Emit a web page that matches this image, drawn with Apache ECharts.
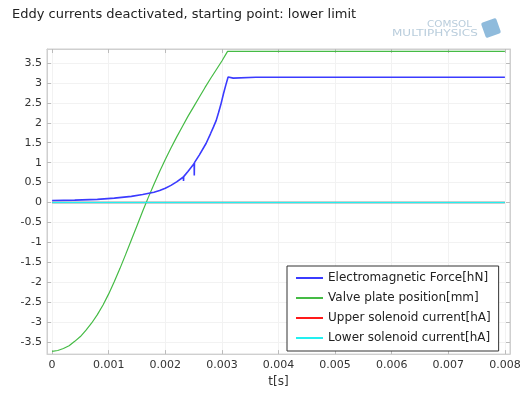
<!DOCTYPE html>
<html>
<head>
<meta charset="utf-8">
<script src="https://cdn.jsdelivr.net/npm/echarts@6/dist/echarts.min.js"></script>
<style>
  html, body { margin: 0; padding: 0; background: #fff; }
  #main { width: 526px; height: 393px; }
</style>
</head>
<body>
<div id="main"></div>
<script>
// values
const xTicks = [0, 0.001, 0.002, 0.003, 0.004, 0.005, 0.006, 0.007, 0.008];
const yTicks = [-3.5, -3, -2.5, -2, -1.5, -1, -0.5, 0, 0.5, 1, 1.5, 2, 2.5, 3, 3.5];

// Electromagnetic Force[hN]
const forceTime = [0, 0.0004, 0.0008, 0.0011, 0.0014, 0.0016, 0.0018, 0.0019, 0.002, 0.0021, 0.0022,
  0.00232, 0.002322, 0.002325, 0.0024, 0.00251, 0.002512, 0.002515, 0.0026, 0.00272, 0.0028, 0.00285,
  0.0029, 0.00294, 0.00298, 0.00303, 0.00307, 0.00311, 0.0032, 0.0036, 0.008];
const forceValues = [0.05, 0.06, 0.08, 0.11, 0.155, 0.2, 0.26, 0.3, 0.36, 0.43, 0.52,
  0.64, 0.54, 0.65, 0.78, 0.98, 0.68, 1.0, 1.19, 1.48, 1.73, 1.89,
  2.06, 2.25, 2.45, 2.74, 2.95, 3.15, 3.12, 3.14, 3.14];

// Valve plate position[mm]
const posTime = [0, 0.0001, 0.0002, 0.0003, 0.0004, 0.0005, 0.0006, 0.0007, 0.0008, 0.0009, 0.001,
  0.0011, 0.0012, 0.0013, 0.0014, 0.0015, 0.0016, 0.0017, 0.0018, 0.0019, 0.002,
  0.0021, 0.0022, 0.0023, 0.0024, 0.0025, 0.0026, 0.0027, 0.0028, 0.0029, 0.003, 0.0031, 0.008];
const posValues = [-3.73, -3.71, -3.66, -3.59, -3.48, -3.36, -3.2, -3.02, -2.81, -2.57, -2.29,
  -1.98, -1.65, -1.3, -0.94, -0.58, -0.22, 0.13, 0.46, 0.78, 1.08,
  1.37, 1.64, 1.9, 2.16, 2.4, 2.64, 2.88, 3.11, 3.33, 3.55, 3.79, 3.79];

// solenoid currents
const currentTime = [0, 0.008];
const upperCurrent = [0, 0];
const lowerCurrent = [0, 0];

const seriesNames = ['Electromagnetic Force[hN]', 'Valve plate position[mm]',
  'Upper solenoid current[hA]', 'Lower solenoid current[hA]'];

function pairs(ts, vs) {
  return ts.map((t, i) => [t, vs[i]]);
}

const font = 'DejaVu Sans';
const chart = echarts.init(document.getElementById('main'));

const option = {
  animation: false,
  textStyle: { fontFamily: font },
  title: {
    text: 'Eddy currents deactivated, starting point: lower limit',
    left: 12,
    top: 8,
    padding: 0,
    textStyle: { fontSize: 13, fontWeight: 'normal', color: '#222', fontFamily: font },
  },
  grid: {
    left: 47, right: 16, top: 49, bottom: 28,
    show: true, borderColor: '#cfcfcf', borderWidth: 1,
  },
  legend: {
    orient: 'vertical',
    left: 287,
    top: 266,
    padding: [6, 8, 7, 8],
    itemWidth: 27,
    itemHeight: 14,
    itemGap: 8,
    borderColor: '#333',
    borderWidth: 1,
    backgroundColor: '#fff',
    itemStyle: { opacity: 0 },
    lineStyle: { width: 2 },
    textStyle: { fontSize: 12, color: '#222', fontFamily: font },
    data: seriesNames,
  },
  xAxis: [
    {
      type: 'value',
      min: -0.00009,
      max: 0.00809,
      name: 't[s]',
      nameLocation: 'middle',
      nameGap: 18,
      nameTextStyle: { fontSize: 12, color: '#333', fontFamily: font },
      axisLine: { show: true, onZero: false, lineStyle: { color: '#cfcfcf' } },
      axisTick: { show: true, inside: true, length: 4, lineStyle: { color: '#bbb' }, customValues: xTicks },
      axisLabel: {
        customValues: xTicks, fontSize: 11, color: '#333', margin: 6,
        formatter: (v) => (v === 0 ? '0' : v.toFixed(3)),
      },
      splitLine: { show: true, lineStyle: { color: '#f2f2f2' } },
    },
    {
      type: 'value',
      position: 'top',
      min: -0.00009,
      max: 0.00809,
      axisLine: { show: true, onZero: false, lineStyle: { color: '#cfcfcf' } },
      axisTick: { show: true, inside: true, length: 4, lineStyle: { color: '#bbb' }, customValues: xTicks },
      axisLabel: { show: false },
      splitLine: { show: false },
    },
  ],
  yAxis: [
    {
      type: 'value',
      min: -3.8,
      max: 3.85,
      axisLine: { show: true, onZero: false, lineStyle: { color: '#cfcfcf' } },
      axisTick: { show: true, inside: true, length: 4, lineStyle: { color: '#bbb' }, customValues: yTicks },
      axisLabel: {
        customValues: yTicks, fontSize: 11, color: '#333', margin: 5,
        formatter: (v) => String(v),
      },
      splitLine: { show: true, lineStyle: { color: '#f2f2f2' } },
    },
    {
      type: 'value',
      position: 'right',
      min: -3.8,
      max: 3.85,
      axisLine: { show: true, onZero: false, lineStyle: { color: '#cfcfcf' } },
      axisTick: { show: true, inside: true, length: 4, lineStyle: { color: '#bbb' }, customValues: yTicks },
      axisLabel: { show: false },
      splitLine: { show: false },
    },
  ],
  series: [
    {
      name: seriesNames[0],
      type: 'line',
      symbol: 'none',
      lineStyle: { color: '#3b3bff', width: 1.6 },
      itemStyle: { color: '#3b3bff' },
      data: pairs(forceTime, forceValues),
      z: 4,
    },
    {
      name: seriesNames[1],
      type: 'line',
      symbol: 'none',
      lineStyle: { color: '#45bb45', width: 1.2 },
      itemStyle: { color: '#45bb45' },
      data: pairs(posTime, posValues),
      z: 3,
    },
    {
      name: seriesNames[2],
      type: 'line',
      symbol: 'none',
      lineStyle: { color: '#ff1a1a', width: 1.4 },
      itemStyle: { color: '#ff1a1a' },
      data: pairs(currentTime, upperCurrent),
      z: 2,
    },
    {
      name: seriesNames[3],
      type: 'line',
      symbol: 'none',
      lineStyle: { color: '#22f0f0', width: 1.4 },
      itemStyle: { color: '#22f0f0' },
      data: pairs(currentTime, lowerCurrent),
      z: 3,
    },
  ],
  graphic: [
    {
      type: 'text', left: 427, top: 21, scaleX: 1.3,
      style: { text: 'COMSOL', fontSize: 8, fontFamily: font, fill: '#b9cddc' },
    },
    {
      type: 'text', left: 392, top: 30, scaleX: 1.5,
      style: { text: 'MULTIPHYSICS', fontSize: 8, fontFamily: font, fill: '#b9cddc' },
    },
    {
      type: 'rect', x: 491, y: 28, rotation: 0.35,
      shape: { x: -8, y: -8, width: 16, height: 16, r: 2 },
      style: { fill: '#8fbbdc' },
    },
  ],
};

chart.setOption(option);
</script>
</body>
</html>
